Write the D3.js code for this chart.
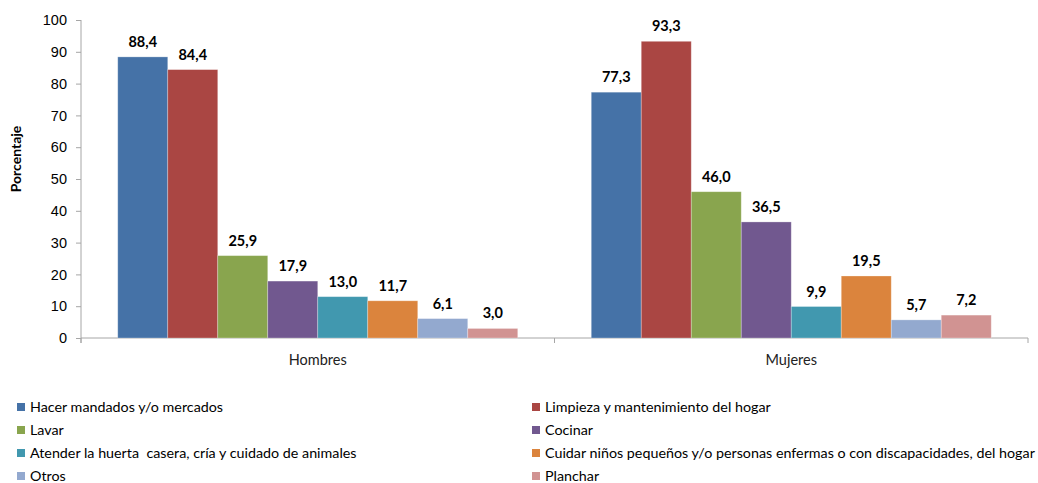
<!DOCTYPE html>
<html>
<head>
<meta charset="utf-8">
<script src="https://cdn.jsdelivr.net/npm/d3@7"></script>
<style>
  body { margin: 0; background: #fff; }
  svg { font-family: Lato, "Open Sans", sans-serif; }
  .legtext { white-space: pre; }
</style>
</head>
<body>
<svg id="chart" width="1038" height="483"></svg>
<script>
let groups = ["Hombres", "Mujeres"];
let series = [
    "Hacer mandados y/o mercados",
    "Limpieza y mantenimiento del hogar",
    "Lavar",
    "Cocinar",
    "Atender la huerta  casera, cría y cuidado de animales",
    "Cuidar niños pequeños y/o personas enfermas o con discapacidades, del hogar",
    "Otros",
    "Planchar"
];
let colors = ["#4572A7", "#AA4643", "#89A54E", "#71588F", "#4198AF", "#DB843D", "#93A9CF", "#D19392"];
let hombres = [88.4, 84.4, 25.9, 17.9, 13.0, 11.7, 6.1, 3.0];
let mujeres = [77.3, 93.3, 46.0, 36.5, 9.9, 19.5, 5.7, 7.2];
let yTicks = [0, 10, 20, 30, 40, 50, 60, 70, 80, 90, 100];

let svg = d3.select("#chart");
let plotLeft = 81, plotRight = 1028, plotTop = 20, plotBottom = 338;

let x0 = d3.scaleBand().domain(groups).range([plotLeft, plotRight]);
let x1 = d3.scaleBand().domain(series)
    .range([0, x0.bandwidth()])
    .paddingInner(0)
    .paddingOuter(0.735);
let y = d3.scaleLinear().domain([0, 100]).range([plotBottom, plotTop]);

let locale = d3.formatLocale({decimal: ",", thousands: ".", grouping: [3], currency: ["", ""]});
let fmt = locale.format(".1f");

let data = [];
groups.forEach(function(g, gi) {
    let vals = gi == 0 ? hombres : mujeres;
    series.forEach(function(s, si) {
        data.push({group: g, name: s, value: vals[si], color: colors[si]});
    });
});

// y axis
let yAxis = svg.append("g")
    .attr("transform", "translate(" + plotLeft + ",0)")
    .call(d3.axisLeft(y).tickValues(yTicks).tickSize(5).tickPadding(9));
yAxis.select(".domain").attr("stroke", "#a6a6a6").attr("d", "M0," + plotTop + "V" + (plotBottom + 5));
yAxis.selectAll(".tick line").attr("stroke", "#a6a6a6");
yAxis.selectAll(".tick text").attr("font-size", 14.5).attr("fill", "#000");

// x axis
let xAxis = svg.append("g")
    .attr("transform", "translate(0," + plotBottom + ")");
xAxis.append("line")
    .attr("x1", plotLeft).attr("x2", plotRight)
    .attr("stroke", "#a6a6a6");
let edges = [plotLeft, x0("Mujeres"), plotRight];
xAxis.selectAll(".xtick").data(edges).enter().append("line")
    .attr("x1", d => d).attr("x2", d => d)
    .attr("y1", 0).attr("y2", 5)
    .attr("stroke", "#a6a6a6");
xAxis.selectAll(".xlab").data(groups).enter().append("text")
    .attr("x", d => x0(d) + x0.bandwidth() / 2)
    .attr("y", 27)
    .attr("text-anchor", "middle")
    .attr("font-size", 14.5)
    .attr("fill", "#222")
    .text(d => d);

// bars
svg.selectAll(".bar").data(data).enter().append("rect")
    .attr("class", "bar")
    .attr("x", d => x0(d.group) + x1(d.name))
    .attr("y", d => y(d.value))
    .attr("width", x1.bandwidth())
    .attr("height", d => plotBottom - y(d.value))
    .attr("fill", d => d.color)
    .attr("stroke", "#fff")
    .attr("stroke-opacity", 0.35)
    .attr("stroke-width", 0.8);

// value labels
svg.selectAll(".val").data(data).enter().append("text")
    .attr("x", d => x0(d.group) + x1(d.name) + x1.bandwidth() / 2)
    .attr("y", d => y(d.value) - 10)
    .attr("text-anchor", "middle")
    .attr("font-size", 14.5)
    .attr("font-weight", "bold")
    .attr("fill", "#000")
    .text(d => fmt(d.value));

// y title
svg.append("text")
    .attr("transform", "translate(21,159) rotate(-90)")
    .attr("text-anchor", "middle")
    .attr("font-size", 14)
    .attr("font-weight", "bold")
    .attr("fill", "#000")
    .text("Porcentaje");

// legend
let legend = svg.selectAll(".leg").data(series).enter().append("g")
    .attr("transform", (d, i) => "translate(" + (i % 2 == 0 ? 17 : 532) + "," + (407 + Math.floor(i / 2) * 23) + ")");
legend.append("rect")
    .attr("x", 0).attr("y", -4)
    .attr("width", 8).attr("height", 8)
    .attr("fill", (d, i) => colors[i]);
legend.append("text")
    .attr("class", "legtext")
    .attr("x", 13)
    .attr("y", 0)
    .attr("dy", "0.35em")
    .attr("font-size", 14.3)
    .attr("fill", "#000")
    .text(d => d);
</script>
</body>
</html>
